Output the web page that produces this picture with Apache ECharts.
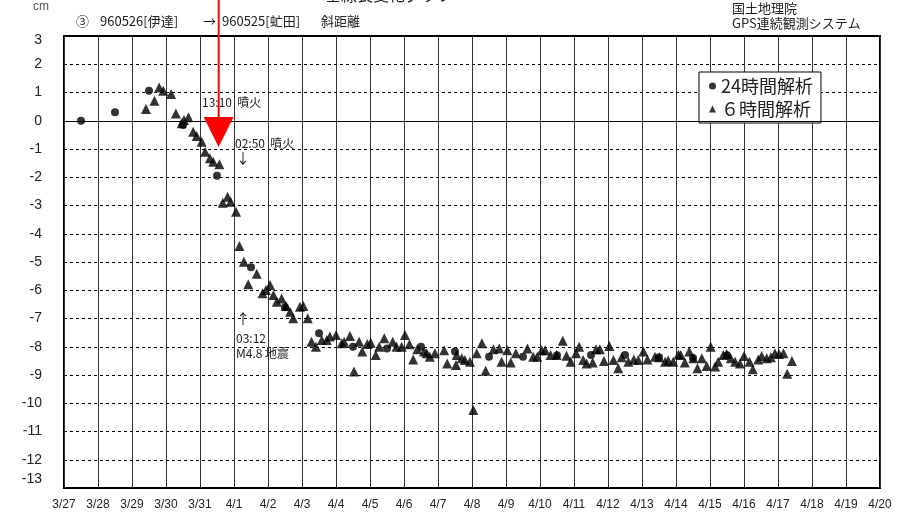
<!DOCTYPE html>
<html><head><meta charset="utf-8">
<script src="https://cdn.jsdelivr.net/npm/echarts@6/dist/echarts.min.js"></script>
<style>html,body{margin:0;padding:0;background:#fff}#c{width:908px;height:518px}</style>
</head><body><div id="c"></div>
<script>
// x axis: days since 3/27 00:00
const dateLabels = ['3/27','3/28','3/29','3/30','3/31','4/1','4/2','4/3','4/4','4/5','4/6','4/7','4/8','4/9','4/10','4/11','4/12','4/13','4/14','4/15','4/16','4/17','4/18','4/19','4/20'];
// 24-hour analysis (daily, noon)
const dailyTimes = [0.5,1.5,2.5,3.5,4.5,5.5,6.5,7.5,8.5,9.5,10.5,11.5,12.5,13.5,14.5,15.5,16.5,17.5,18.5,19.5];
const dailyValues = [0.0,0.3,1.06,-0.15,-1.95,-5.19,-6.6,-7.52,-8.0,-8.06,-8.0,-8.17,-8.35,-8.35,-8.3,-8.29,-8.29,-8.37,-8.4,-8.3];
// 6-hour analysis
const sixTimes = [2.41,2.66,2.80,2.92,3.15,3.29,3.46,3.53,3.66,3.80,3.90,4.05,4.15,4.29,4.39,4.57,
 4.67,4.81,4.90,5.06,5.16,5.29,5.42,5.67,5.84,5.94,6.06,6.16,6.26,6.40,6.53,6.65,6.74,6.94,7.04,7.17,
 7.28,7.41,7.58,7.73,7.82,8.00,8.17,8.24,8.41,8.53,8.68,8.77,8.92,9.02,9.17,9.27,9.42,9.67,9.78,9.93,
 10.03,10.16,10.27,10.39,10.59,10.67,10.76,10.91,11.18,11.27,11.53,11.55,11.70,11.79,11.94,12.04,12.14,
 12.29,12.40,12.63,12.80,12.87,13.04,13.14,13.29,13.63,13.80,13.92,14.05,14.15,14.31,14.49,14.67,14.78,
 14.90,15.06,15.15,15.27,15.37,15.55,15.65,15.76,15.88,16.04,16.16,16.30,16.40,16.60,16.76,16.89,17.04,
 17.16,17.38,17.51,17.68,17.77,17.92,18.07,18.14,18.26,18.39,18.51,18.63,18.76,18.90,19.02,19.15,19.24,
 19.39,19.49,19.61,19.74,19.88,20.00,20.16,20.26,20.42,20.52,20.67,20.79,20.91,21.03,21.16,21.27,21.41];
const sixValues = [0.42,0.71,1.18,1.06,0.95,0.26,-0.09,0.03,0.12,-0.39,-0.54,-0.74,-1.10,-1.33,-1.45,-1.54,
 -2.9,-2.69,-2.87,-3.22,-4.43,-4.99,-5.79,-5.42,-6.11,-5.99,-5.81,-6.17,-6.41,-6.29,-6.56,-6.76,-6.99,-6.58,-6.56,-6.99,
 -7.82,-8.0,-7.76,-7.76,-7.64,-7.58,-7.88,-7.82,-7.62,-8.88,-7.82,-8.17,-7.90,-7.86,-8.29,-8.0,-7.70,-7.82,-8.0,-8.0,
 -7.58,-7.91,-8.45,-8.09,-8.17,-8.23,-8.35,-8.23,-8.12,-8.59,-8.65,-8.29,-8.41,-8.47,-8.53,-10.24,-8.23,
 -7.88,-8.85,-8.09,-8.06,-8.53,-8.12,-8.56,-8.23,-8.06,-8.35,-8.35,-8.12,-8.12,-8.29,-8.29,-7.79,-8.32,
 -8.53,-8.23,-8.0,-8.47,-8.59,-8.56,-8.09,-8.09,-8.50,-7.97,-8.47,-8.76,-8.37,-8.53,-8.45,-8.47,-8.17,
 -8.45,-8.35,-8.37,-8.53,-8.49,-8.53,-8.27,-8.29,-8.56,-8.17,-8.41,-8.76,-8.41,-8.68,-8.0,-8.70,-8.53,
 -8.29,-8.26,-8.41,-8.53,-8.59,-8.33,-8.53,-8.80,-8.45,-8.33,-8.41,-8.37,-8.23,-8.26,-8.23,-8.96,-8.50];
// eruption 3/31 13:10
const eruptionTime = 4 + 13/24 + 10/1440;
const arrowTipValue = -0.93;

const FONT = "'Liberation Sans','Noto Sans CJK JP',sans-serif";
const JFONT = "'Noto Sans CJK JP',sans-serif";
const TXT = '#222';
const chart = echarts.init(document.getElementById('c'), null, {renderer:'canvas'});
const option = {
  animation:false,
  backgroundColor:'#fff',
  grid:{left:64, top:36, right:28, bottom:30, show:true, borderColor:'#000', borderWidth:2, backgroundColor:'transparent'},
  legend:{
    orient:'vertical', left:699, top:72, width:129,
    padding:[5,8,5,10], itemGap:5, itemWidth:7, itemHeight:7,
    borderColor:'#000', borderWidth:1, backgroundColor:'#fff',
    textStyle:{fontSize:18, color:TXT, fontFamily:JFONT},
    data:[{name:'24時間解析', icon:'circle'},{name:'６時間解析', icon:'triangle'}]
  },
  xAxis:{type:'value', min:0, max:24, interval:1,
    axisLine:{show:false}, axisTick:{show:false},
    axisLabel:{formatter:v=>dateLabels[Math.round(v)], fontSize:12, color:TXT, margin:11, fontFamily:FONT},
    splitLine:{show:true, lineStyle:{color:'#333', width:1}}},
  yAxis:{type:'value', min:-13, max:3, interval:1,
    axisLine:{show:false}, axisTick:{show:false},
    axisLabel:{fontSize:14, color:TXT, margin:22, fontFamily:FONT,
      formatter:v=> v===3 ? '{t|3}' : (v===-13 ? '{b|-13}' : String(v)),
      rich:{t:{fontSize:14, color:TXT, fontFamily:FONT, padding:[8,0,0,0]},
            b:{fontSize:14, color:TXT, fontFamily:FONT, padding:[0,0,18,0]}}},
    splitLine:{show:true, lineStyle:{color:'#000', width:1, type:[3,3]}}},
  series:[
    {name:'24時間解析', type:'scatter', symbol:'circle', symbolSize:8, itemStyle:{color:'#000'},
     data:dailyTimes.map((t,i)=>[t,dailyValues[i]]), z:3,
     markLine:{silent:true, symbol:'none', label:{show:false}, lineStyle:{color:'#000', width:1, type:'solid'}, data:[{yAxis:0}]}},
    {name:'６時間解析', type:'scatter', symbol:'triangle', symbolSize:10, itemStyle:{color:'#000'},
     data:sixTimes.map((t,i)=>[t,sixValues[i]]), z:4}
  ]
};
chart.setOption(option);
const [ax, tipY] = chart.convertToPixel({gridIndex:0}, [eruptionTime, arrowTipValue]);
const txt = (x,y,s,size,font,fill)=>({type:'text', left:x, top:y, z:20, style:{text:s, fontSize:size||12, fill:fill||TXT, fontFamily:font||FONT}});
chart.setOption({graphic:[
  {type:'line', z:30, shape:{x1:ax, y1:0, x2:ax, y2:tipY-29}, style:{stroke:'#f00', lineWidth:2}},
  {type:'polygon', z:30, shape:{points:[[ax-15,tipY-30],[ax+15,tipY-30],[ax,tipY]]}, style:{fill:'#f00'}},
  txt(325,-13,'基線長変化グラフ',16,JFONT),
  txt(33,1,'cm',12,FONT,'#555'),
  txt(76,15,'③',13,JFONT),
  txt(100,15,'960526[伊達]',13,JFONT),
  txt(203,15,'→',13,JFONT),
  txt(222,15,'960525[虻田]',13,JFONT),
  txt(321,15,'斜距離',13,JFONT),
  txt(732,2,'国土地理院',13,JFONT),
  txt(732,17,'GPS連続観測システム',13,JFONT),
  txt(202,96,'13:10  噴火',12,JFONT),
  txt(235,137,'02:50  噴火',12,JFONT),
  txt(236,151,'↓',14,JFONT),
  txt(236,312,'↑',14,JFONT),
  txt(236,332,'03:12',12,JFONT),
  txt(236,347,'M4.8 地震',12,JFONT)
]});
</script></body></html>
